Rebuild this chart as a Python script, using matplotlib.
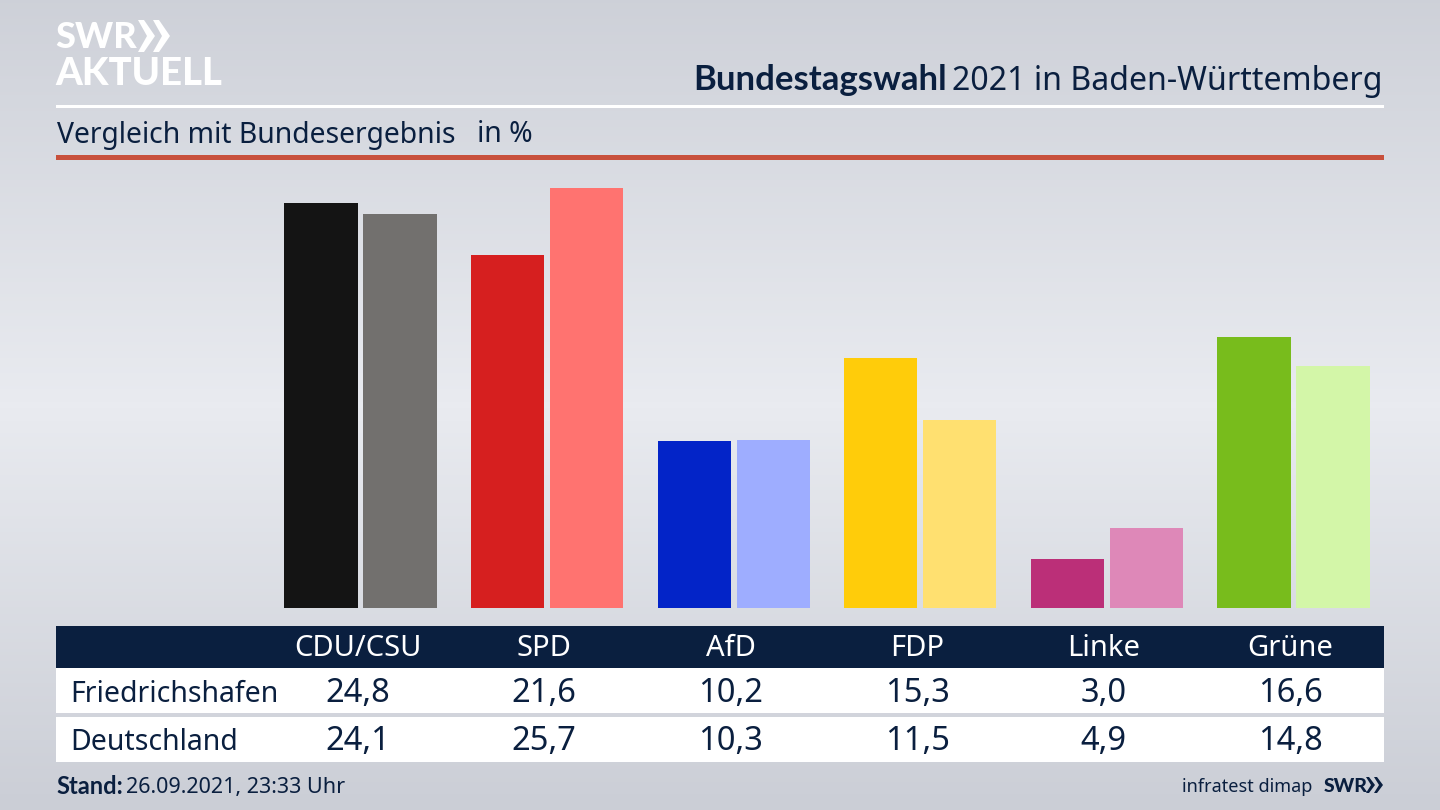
import numpy as np
import matplotlib
matplotlib.use("Agg")
import matplotlib.pyplot as plt
from matplotlib.patches import Rectangle, Polygon

parties = ["CDU/CSU", "SPD", "AfD", "FDP", "Linke", "Grüne"]
friedrichshafen = [24.8, 21.6, 10.2, 15.3, 3.0, 16.6]
deutschland = [24.1, 25.7, 10.3, 11.5, 4.9, 14.8]
colors_local = ["#141414", "#d61f1f", "#0324c8", "#ffcc0a", "#bb2f78", "#78bc1c"]
colors_national = ["#72706e", "#ff7370", "#9eadff", "#ffe070", "#de88b8", "#d3f6a8"]
row_names = ["Friedrichshafen", "Deutschland"]

NAVY = "#0a1f3f"
BOLD = ["Lato", "DejaVu Sans"]
plt.rcParams["font.family"] = ["Noto Sans", "DejaVu Sans"]

fig = plt.figure(figsize=(14.4, 8.1), dpi=100)

# background + decoration in pixel coordinates
bg = fig.add_axes([0, 0, 1, 1])
bg.axis("off")
grad = np.interp(np.linspace(0, 1, 256), [0, 0.5, 1], [0.1, 1, 0.0]).reshape(-1, 1)
bg.imshow(grad, extent=[0, 1440, 810, 0], aspect="auto",
          cmap=matplotlib.colors.LinearSegmentedColormap.from_list("bg", ["#cbced6", "#e9ebf0"]))
bg.set_xlim(0, 1440)
bg.set_ylim(810, 0)

# logo
bg.text(55, 38, "SWR", color="white", fontsize=26, fontweight="black", va="center", ha="left", family=BOLD)
bg.text(55, 74, "AKTUELL", color="white", fontsize=27.5, fontweight="black", va="center", ha="left", family=BOLD)
for x0 in (138, 153):
    bg.add_patch(Polygon([(x0, 20), (x0 + 6, 20), (x0 + 17, 36), (x0 + 6, 52), (x0, 52), (x0 + 9, 36)],
                         closed=True, color="white", lw=0))

# header
bg.text(693, 80, "Bundestagswahl", color=NAVY, fontsize=25, fontweight="bold", va="center", ha="left", family=BOLD)
bg.text(1383, 81, "2021 in Baden-Württemberg", color=NAVY, fontsize=23.1, va="center", ha="right")
bg.add_patch(Rectangle((56, 104.5), 1328, 3, color="white", lw=0))
bg.text(57, 135, "Vergleich mit Bundesergebnis", color=NAVY, fontsize=20.4, va="center", ha="left")
bg.text(477, 135, "in %", color=NAVY, fontsize=20.4, va="center", ha="left")
bg.add_patch(Rectangle((56, 155), 1328, 5, color="#c8503c", lw=0))

# table
bg.add_patch(Rectangle((56, 626), 1328, 42, color=NAVY, lw=0))
bg.add_patch(Rectangle((56, 668), 1328, 45, color="white", lw=0))
bg.add_patch(Rectangle((56, 717), 1328, 45, color="white", lw=0))
for i, p in enumerate(parties):
    cx = 357.5 + 186.6 * i
    bg.text(cx, 649, p, color="white", fontsize=21, va="center", ha="center")
    bg.text(cx, 694, f"{friedrichshafen[i]:.1f}".replace(".", ","), color=NAVY, fontsize=23.5, va="center", ha="center")
    bg.text(cx, 742, f"{deutschland[i]:.1f}".replace(".", ","), color=NAVY, fontsize=23.5, va="center", ha="center")
bg.text(70, 694, row_names[0], color=NAVY, fontsize=20.5, va="center", ha="left")
bg.text(70, 742, row_names[1], color=NAVY, fontsize=20.5, va="center", ha="left")

# footer
bg.text(56, 787, "Stand:", color=NAVY, fontsize=17, fontweight="bold", va="center", ha="left", family=BOLD)
bg.text(126, 788, "26.09.2021, 23:33 Uhr", color=NAVY, fontsize=15.5, va="center", ha="left")
bg.text(1312, 787, "infratest dimap", color=NAVY, fontsize=13, va="center", ha="right")
bg.text(1324, 786, "SWR", color=NAVY, fontsize=14, fontweight="black", va="center", ha="left", family=BOLD)
for x0 in (1366, 1374):
    bg.add_patch(Polygon([(x0, 777), (x0 + 3, 777), (x0 + 9, 785), (x0 + 3, 793), (x0, 793), (x0 + 5, 785)],
                         closed=True, color=NAVY, lw=0))

# bars, x in group index, y in percent (16.33 px per point, baseline at y=608)
ax = fig.add_axes([0, (810 - 608) / 810, 1, 448 / 810])
ax.patch.set_alpha(0)
ax.axis("off")
ax.set_xlim(-360.5 / 186.6, (1440 - 360.5) / 186.6)
ax.set_ylim(0, 448 / 16.33)
x = np.arange(len(parties))
w = 73.2 / 186.6
off = 39.5 / 186.6
ax.bar(x - off, friedrichshafen, w, color=colors_local)
ax.bar(x + off, deutschland, w, color=colors_national)

fig.savefig("out.png", dpi=100)
